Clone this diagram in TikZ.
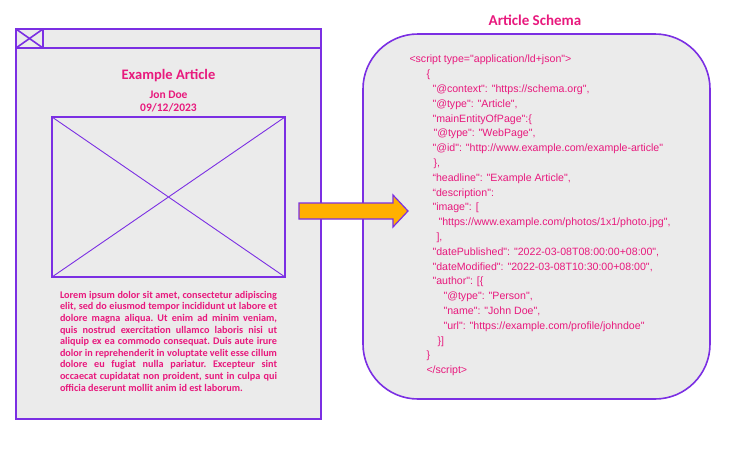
\documentclass[tikz,border=0pt]{standalone}
\usepackage{fontspec}
\setmainfont{Carlito}
\newfontfamily\codefont{Liberation Sans}
\usepackage{tikz}

\definecolor{schemapink}{HTML}{E8197D}
\definecolor{schemapurple}{HTML}{7B2FE3}
\definecolor{pagegray}{HTML}{EBEBEB}
\definecolor{arroworange}{HTML}{FFB000}

\begin{document}
\begin{tikzpicture}[x=1pt, y=-1pt,
                    frame/.style={draw=schemapurple, line width=1.6pt},
                    pinktext/.style={text=schemapink, inner sep=0pt,
                                     font=\bfseries\fontsize{11.5}{13}\selectfont},
                    code/.style={text=schemapink, inner sep=0pt, anchor=base west,
                                 font=\codefont\fontsize{10.6}{12}\selectfont}]
    \useasboundingbox (0,0) rectangle (734,450);

    % page mockup
    \draw[frame, fill=pagegray] (16,29) rectangle (321,419);
    \draw[frame] (16,48) -- (321,48);
    \draw[frame] (16,29) rectangle (43,48) (16,29) -- (43,48) (16,48) -- (43,29);
    \draw[frame, line width=1.3pt] (52,117) rectangle (285,277);
    \draw[frame, line width=0.9pt] (52,117) -- (285,277) (52,277) -- (285,117);

    \node[pinktext, font=\bfseries\fontsize{14.5}{16}\selectfont] (title) at (168.5,75.5) {Example Article};
    \node[pinktext] (author) at (168.5,95) {Jon Doe};
    \node[pinktext] (date) at (168.5,108) {09/12/2023};
    \node[pinktext, font=\bfseries\fontsize{10.2}{11.6}\selectfont, text width=217pt,
          align=justify, anchor=north] (body) at (168.5,291)
        {\frenchspacing\hyphenpenalty=10000 Lorem ipsum dolor sit amet, consectetur adipiscing\linebreak
         elit, sed do eiusmod tempor incididunt ut labore et\linebreak
         dolore magna aliqua. Ut enim ad minim veniam,\linebreak
         quis nostrud exercitation ullamco laboris nisi ut\linebreak
         aliquip ex ea commodo consequat. Duis aute irure\linebreak
         dolor in reprehenderit in voluptate velit esse cillum\linebreak
         dolore eu fugiat nulla pariatur. Excepteur sint\linebreak
         occaecat cupidatat non proident, sunt in culpa qui\linebreak
         officia deserunt mollit anim id est laborum.};

    % schema
    \node[pinktext, font=\bfseries\fontsize{15}{17}\selectfont] (heading) at (535,20) {Article Schema};
    \node[frame, fill=pagegray, rounded corners=55pt, minimum width=347pt,
          minimum height=365pt] (schema) at (536.5,216.5) {};

    \foreach \dx/\txt [count=\i from 0] in {
            0/{<script type="application/ld+json">},
            17/{\{},
            23/{"@context": "https://schema.org",},
            23/{"@type": "Article",},
            23/{"mainEntityOfPage":\{},
            24/{"@type": "WebPage",},
            23/{"@id": "http://www.example.com/example-article"},
            24/{\},},
            23/{“headline": "Example Article",},
            23/{“description":},
            23/{"image": [},
            29/{"https://www.example.com/photos/1x1/photo.jpg",},
            27/{],},
            23/{"datePublished": "2022-03-08T08:00:00+08:00",},
            23/{"dateModified": "2022-03-08T10:30:00+08:00",},
            23/{"author": [\{},
            34/{"@type": "Person",},
            34/{"name": "John Doe",},
            34/{"url": "https://example.com/profile/johndoe"},
            28/{\}]},
            17/{\}},
            17/{</script>}} {
            \node[code] (L\i) at (409.3+\dx, 62.8+14.8*\i) {\txt};
        }

    % arrow
    \draw[frame, line width=1.2pt, fill=arroworange] (299,203) -- (393,203) -- (393,195)
        -- (408,211) -- (393,227) -- (393,219) -- (299,219) -- cycle;
\end{tikzpicture}
\end{document}
